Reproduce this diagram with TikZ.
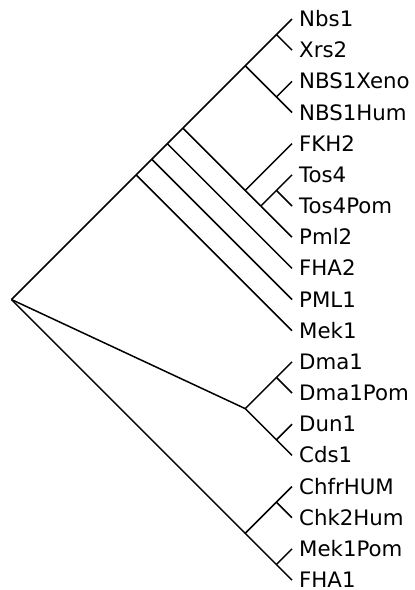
\documentclass[tikz,border=0pt]{standalone}
\usepackage{fontspec}
\setmainfont{DejaVu Sans}
\newcommand\cladenode[3]{\coordinate (#1) at ({292-31.17*(#3-#2)/2},{19+31.17*(#2+#3)/2});}
\begin{document}
\begin{tikzpicture}[x=1pt,y=-1pt,
  edge/.style={line width=1.5pt, black},
  lab/.style={anchor=base west, inner sep=0pt, text depth=0pt, font=\fontsize{21.3}{25}\selectfont}]
\useasboundingbox (0,0) rectangle (415,590);
\foreach \n [count=\i from 0] in {Nbs1,Xrs2,NBS1Xeno,NBS1Hum,FKH2,Tos4,Tos4Pom,Pml2,FHA2,PML1,Mek1,Dma1,Dma1Pom,Dun1,Cds1,ChfrHUM,Chk2Hum,Mek1Pom,FHA1}{
  \coordinate (t\i) at (292,{19+31.17*\i});
  \node[lab] (l\i) at (299,{19+31.17*\i+7.6}) {\n};
}
\cladenode{n01}{0}{1}
\cladenode{n23}{2}{3}
\cladenode{n03}{0}{3}
\cladenode{n56}{5}{6}
\cladenode{n57}{5}{7}
\cladenode{n47}{4}{7}
\cladenode{n07}{0}{7}
\cladenode{n08}{0}{8}
\cladenode{n09}{0}{9}
\cladenode{n010}{0}{10}
\cladenode{d}{11}{12}
\cladenode{e}{13}{14}
\cladenode{de}{11}{14}
\cladenode{f}{15}{16}
\cladenode{g}{17}{18}
\cladenode{fg}{15}{18}
\cladenode{root}{0}{18}
\draw[edge] (root) -- (n010);
\draw[edge] (root) -- (de);
\draw[edge] (root) -- (fg);
\draw[edge] (n010) -- (n09);
\draw[edge] (n010) -- (t10);
\draw[edge] (n09) -- (n08);
\draw[edge] (n09) -- (t9);
\draw[edge] (n08) -- (n07);
\draw[edge] (n08) -- (t8);
\draw[edge] (n07) -- (n03);
\draw[edge] (n07) -- (n47);
\draw[edge] (n03) -- (n01);
\draw[edge] (n03) -- (n23);
\draw[edge] (n01) -- (t0);
\draw[edge] (n01) -- (t1);
\draw[edge] (n23) -- (t2);
\draw[edge] (n23) -- (t3);
\draw[edge] (n47) -- (t4);
\draw[edge] (n47) -- (n57);
\draw[edge] (n57) -- (n56);
\draw[edge] (n57) -- (t7);
\draw[edge] (n56) -- (t5);
\draw[edge] (n56) -- (t6);
\draw[edge] (de) -- (d);
\draw[edge] (de) -- (e);
\draw[edge] (d) -- (t11);
\draw[edge] (d) -- (t12);
\draw[edge] (e) -- (t13);
\draw[edge] (e) -- (t14);
\draw[edge] (fg) -- (f);
\draw[edge] (fg) -- (g);
\draw[edge] (f) -- (t15);
\draw[edge] (f) -- (t16);
\draw[edge] (g) -- (t17);
\draw[edge] (g) -- (t18);
\end{tikzpicture}
\end{document}
